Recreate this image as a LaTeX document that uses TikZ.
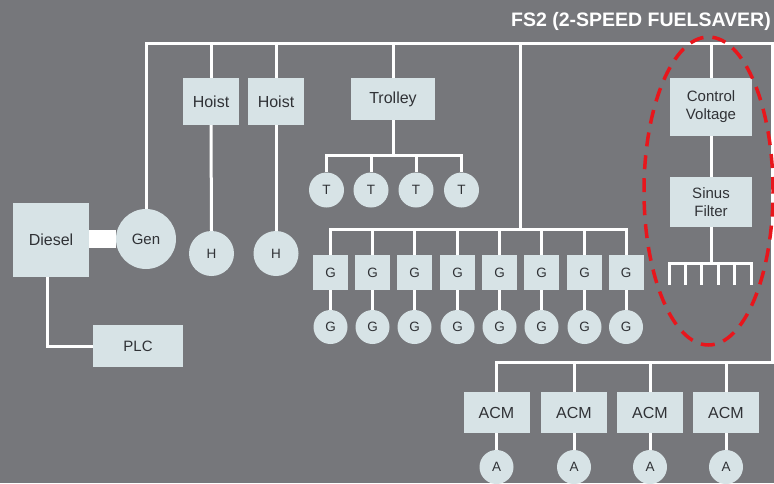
\documentclass[tikz,border=0pt]{standalone}
\usepackage{fontspec}
\setmainfont{Liberation Sans}
\definecolor{bg}{RGB}{118,119,123}
\definecolor{boxfill}{RGB}{215,227,230}
\definecolor{txt}{RGB}{48,50,54}
\definecolor{redd}{RGB}{232,22,28}
\begin{document}
\begin{tikzpicture}[x=1pt,y=-1pt,
  wire/.style={draw=white,line width=3pt},
  box/.style={rectangle,fill=boxfill,text=txt,inner sep=0pt,font=\fontsize{16}{18}\selectfont,align=center},
  circ/.style={circle,fill=boxfill,text=txt,inner sep=0pt,font=\fontsize{13.5}{15}\selectfont},
  gbox/.style={box,minimum width=35pt,minimum height=35pt,font=\fontsize{13.5}{15}\selectfont},
  acmbox/.style={box,minimum width=66pt,minimum height=41pt},
  smallc/.style={circ,minimum size=34pt}
]
\fill[bg] (0,0) rectangle (774,483);
\useasboundingbox (0,0) rectangle (774,483);

% title
\node[anchor=base east,text=white,inner sep=0pt,font=\bfseries\fontsize{19.5}{22}\selectfont] (title) at (771,26) {FS2 (2-SPEED FUELSAVER)};

% left part
\node[box,minimum width=76pt,minimum height=74pt] (diesel) at (51,240) {Diesel};
\node[circ,minimum size=60pt,font=\fontsize{15}{17}\selectfont] (gen) at (146,239) {Gen};
\node[box,minimum width=90pt,minimum height=42pt,font=\fontsize{15}{17}\selectfont] (plc) at (138,346) {PLC};

\node[box,minimum width=56pt,minimum height=47pt] (hoist1) at (211,101.5) {Hoist};
\node[box,minimum width=56pt,minimum height=47pt] (hoist2) at (276,101.5) {Hoist};
\node[circ,minimum size=45pt] (h1) at (211.5,253.5) {H};
\node[circ,minimum size=45pt] (h2) at (276,253.5) {H};

\node[box,minimum width=84pt,minimum height=42pt] (trolley) at (393,99) {Trolley};
\node[smallc,minimum size=35pt] (t1) at (326.5,190) {T};
\node[smallc,minimum size=35pt] (t2) at (371,190) {T};
\node[smallc,minimum size=35pt] (t3) at (416,190) {T};
\node[smallc,minimum size=35pt] (t4) at (461.5,190) {T};

\foreach \i/\xx in {1/330.5,2/372.5,3/414.5,4/457.5,5/499.5,6/541.5,7/584.5,8/626}{
  \node[gbox] (g\i) at (\xx,272.5) {G};
  \node[smallc] (gc\i) at (\xx,327) {G};
}

\node[box,minimum width=82pt,minimum height=58pt,font=\fontsize{15}{18}\selectfont] (cv) at (711,107) {Control\\Voltage};
\node[box,minimum width=82pt,minimum height=50pt,font=\fontsize{15}{18}\selectfont] (sf) at (711,202) {Sinus\\Filter};

\foreach \i/\xx in {1/496.5,2/574,3/650,4/726}{
  \node[acmbox] (acm\i) at (\xx,412.5) {ACM};
  \node[smallc] (a\i) at (\xx,467) {A};
}

% coordinates
\coordinate (tr) at (772.5,43);
\coordinate (br) at (772.5,362);
\coordinate (gtap) at (520,43);
\coordinate (gbus) at (520,229);
\coordinate (tbus) at (393,155);
\coordinate (combtop) at (711,263);

% wires
\draw[wire,line width=18pt] (diesel.east |- gen.west) -- (gen.west);
\draw[wire] ([xshift=-4pt]diesel.south) |- (plc.west);
\draw[wire] (acm1.north) |- (br) -- (tr) -| (gen.north);
\foreach \nm in {hoist1,hoist2,trolley,cv}{
  \draw[wire] (\nm.north) -- (\nm.north |- tr);
}
\draw[wire] (hoist1.south) -- (h1.north);
\draw[wire] (hoist2.south) -- (h2.north);
\draw[wire] (trolley.south) -- (tbus);
\draw[wire] (t1.north) |- (tbus) -| (t4.north);
\draw[wire] (t2.north) -- (t2.north |- tbus);
\draw[wire] (t3.north) -- (t3.north |- tbus);
\draw[wire] (gtap) -- (gbus);
\draw[wire] (g1.north) |- (gbus) -| (g8.north);
\foreach \i in {2,...,7}{
  \draw[wire] (g\i.north) -- (g\i.north |- gbus);
}
\foreach \i in {1,...,8}{
  \draw[wire] (g\i.south) -- (gc\i.north);
}
\foreach \i in {2,3,4}{
  \draw[wire] (acm\i.north) -- (acm\i.north |- br);
}
\foreach \i in {1,...,4}{
  \draw[wire] (acm\i.south) -- (a\i.north);
}
\draw[wire] (cv.south) -- (sf.north);
\draw[wire] (sf.south) -- (combtop);
\draw[wire] (669,285) -- (669,263) -- (751,263) -- (751,285);
\foreach \xx in {685.4,701.8,718.2,734.6}{
  \draw[wire] (\xx,263) -- (\xx,285);
}

% red dashed ellipse
\draw[redd,line width=3.5pt,dash pattern=on 14pt off 9pt] (708.5,191) ellipse [x radius=64.5pt,y radius=154pt];
\end{tikzpicture}
\end{document}
